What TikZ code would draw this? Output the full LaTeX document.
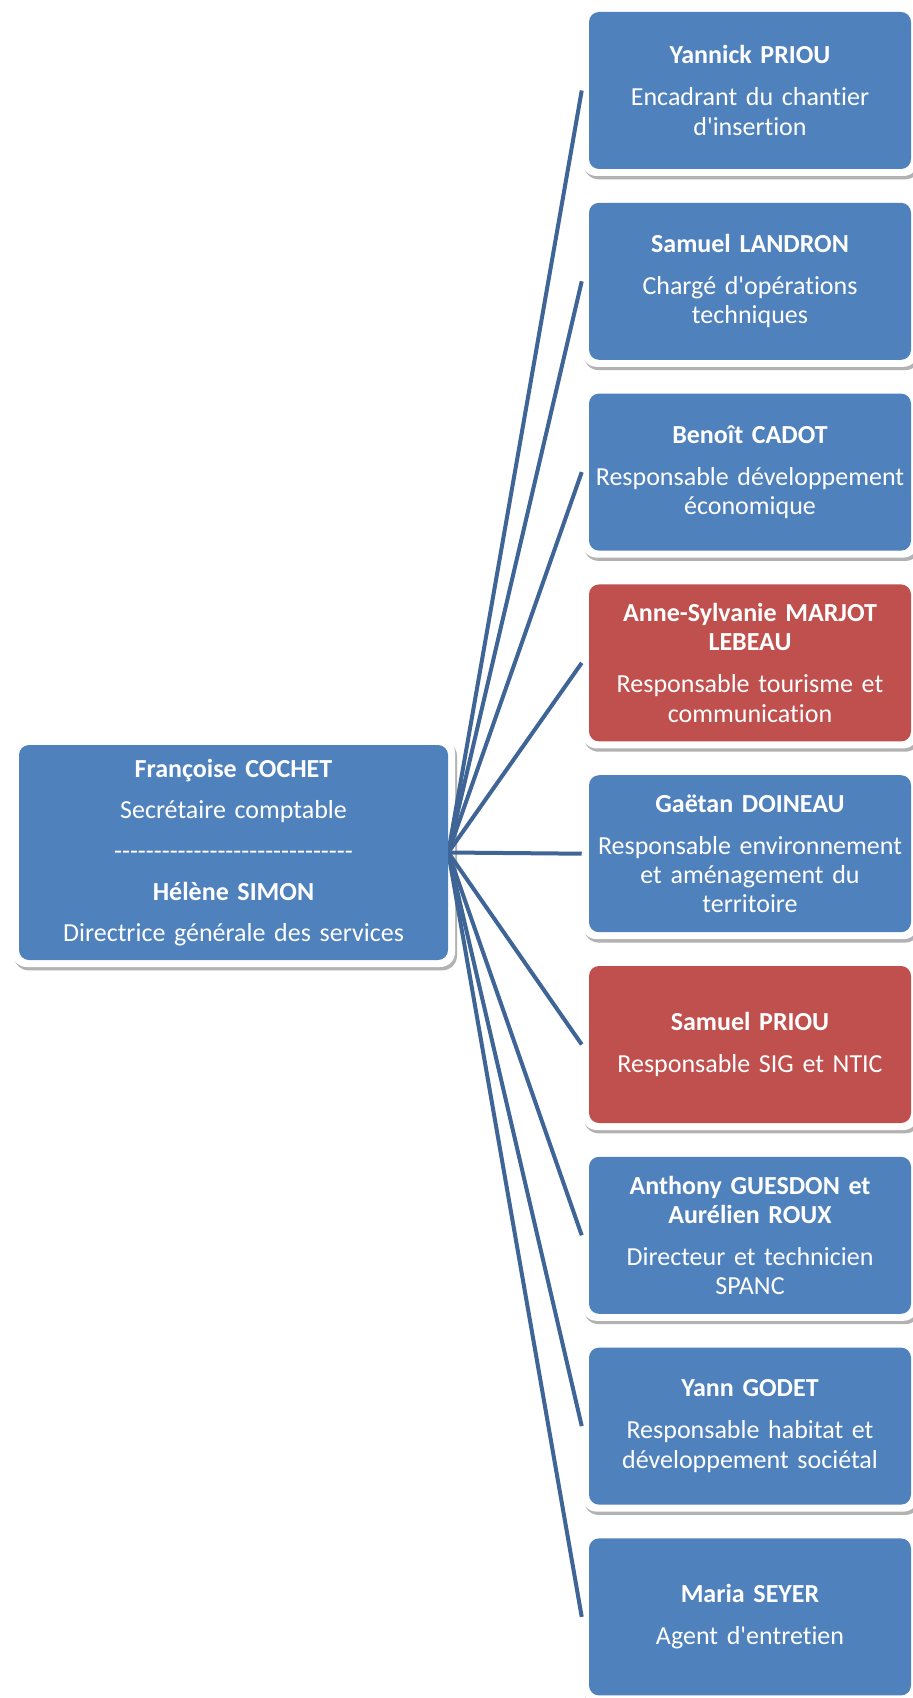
\documentclass[tikz,border=0pt]{standalone}
\usepackage{fontspec}
\setmainfont{Carlito}[Ligatures=NoCommon]
\usetikzlibrary{shadows}
\definecolor{cblue}{HTML}{4F81BD}
\definecolor{cred}{HTML}{C0504D}
\definecolor{cline}{HTML}{3E6596}
\pgfdeclarelayer{back}
\pgfdeclarelayer{mid}
\pgfsetlayers{back,mid,main}
\newcommand{\ap}{\textquotesingle}
\newcommand{\dsh}{-\kern0pt}
\newcommand{\dshten}{\dsh\dsh\dsh\dsh\dsh\dsh\dsh\dsh\dsh\dsh}
\tikzset{
  pbox/.style={fill=cblue, rounded corners=7.5pt, minimum width=241.5pt, minimum height=117.75pt,
    text width=240pt, align=center, inner sep=0pt, text=white,
    font=\fontsize{19.5pt}{22pt}\selectfont},
  rbox/.style={pbox, fill=cred},
  fbox/.style={fill=white, rounded corners=11pt, minimum width=252pt, minimum height=128.25pt, inner sep=0pt,
    drop shadow={shadow xshift=1.5pt, shadow yshift=-2.5pt, fill=black, opacity=0.3}},
  lbox/.style={pbox, minimum width=321.75pt, minimum height=161.25pt, text width=318pt},
  lfbox/.style={fbox, minimum width=332.25pt, minimum height=171.75pt},
  conn/.style={draw=cline, line width=3pt},
}
\begin{document}
\begin{tikzpicture}[x=0.75pt,y=-0.75pt]
\useasboundingbox (0,0) rectangle (913,1698);
\begin{pgfonlayer}{back}
  \node[lfbox] (lf) at (233.5,852.5) {};
  \foreach \i in {1,...,9} {
    \node[fbox] (f\i) at (750,{90.5+190.8*(\i-1)}) {};
  }
\end{pgfonlayer}
\node[lbox] (lb) at (233.5,852.5) {\textbf{Françoise COCHET}\\[8.75pt]Secrétaire comptable\\[8.75pt]\dshten\dshten\dshten\\[8.75pt]\textbf{Hélène SIMON}\\[8.75pt]Directrice générale des services};
\node[pbox] (b1) at (750,90.5) {\textbf{Yannick PRIOU}\\[9.5pt]Encadrant du chantier\\d\ap insertion};
\node[pbox] (b2) at (750,281.3) {\textbf{Samuel LANDRON}\\[9.5pt]Chargé d\ap opérations\\techniques};
\node[pbox] (b3) at (750,472.1) {\textbf{Benoît CADOT}\\[9.5pt]Responsable développement\\économique};
\node[rbox] (b4) at (750,662.9) {\textbf{Anne-Sylvanie MARJOT}\\\textbf{LEBEAU}\\[9.5pt]Responsable tourisme et\\communication};
\node[pbox] (b5) at (750,853.7) {\textbf{Gaëtan DOINEAU}\\[9.5pt]Responsable environnement\\et aménagement du\\territoire};
\node[rbox] (b6) at (750,1044.5) {\textbf{Samuel PRIOU}\\[9.5pt]Responsable SIG et NTIC};
\node[pbox] (b7) at (750,1235.3) {\textbf{Anthony GUESDON et}\\\textbf{Aurélien ROUX}\\[9.5pt]Directeur et technicien\\SPANC};
\node[pbox] (b8) at (750,1426.1) {\textbf{Yann GODET}\\[9.5pt]Responsable habitat et\\développement sociétal};
\node[pbox] (b9) at (750,1616.9) {\textbf{Maria SEYER}\\[9.5pt]Agent d\ap entretien};
\begin{pgfonlayer}{mid}
  \foreach \i in {1,...,9} {
    \draw[conn] (lb.east) -- (f\i.west);
  }
\end{pgfonlayer}
\end{tikzpicture}
\end{document}
